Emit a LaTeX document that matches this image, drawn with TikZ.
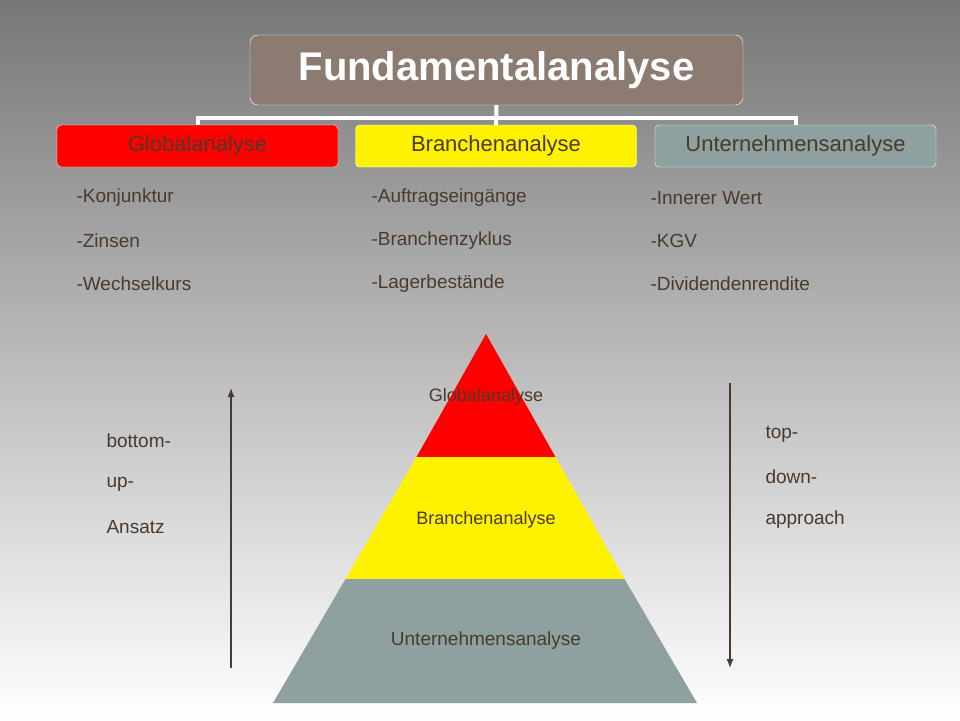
\documentclass[tikz,border=0pt]{standalone}
\usepackage{fontspec}
\setmainfont{Liberation Sans}
\definecolor{brownbox}{HTML}{8B7B70}
\definecolor{txt}{HTML}{4A3A2C}
\definecolor{greybox}{HTML}{8FA0A0}
\definecolor{bgtop}{HTML}{777777}
\begin{document}
\begin{tikzpicture}[x=1pt,y=-1pt,
  child/.style={draw=white,rounded corners=4pt,minimum width=281pt,minimum height=42pt,inner sep=0pt,font=\fontsize{22}{24}\selectfont,text=txt},
  item/.style={anchor=west,font=\fontsize{19}{21}\selectfont,text=txt},
  conn/.style={white,line width=4pt},
  arr/.style={txt,line width=1.3pt,-{Latex[length=9pt,width=7pt]}}]
\usetikzlibrary{arrows.meta}
\shade[top color=bgtop,bottom color=white] (0,0) rectangle (960,720);
\useasboundingbox (0,0) rectangle (960,720);
\node[draw=white,fill=brownbox,rounded corners=8pt,minimum width=493pt,minimum height=70pt,text=white,font=\bfseries\fontsize{40}{44}\selectfont] (top) at (496.5,70) {Fundamentalanalyse};
\node[child,fill=red] (g) at (197.5,146) {Globalanalyse};
\node[child,fill=yellow] (b) at (496,146) {Branchenanalyse};
\node[child,fill=greybox] (u) at (795.5,146) {Unternehmensanalyse};
\coordinate (bar) at (496,118);
\draw[conn] (top.south) -- (b.north);
\draw[conn] (g.north) |- (bar) -| (u.north);
\node[item] (g1) at (73,198) {-Konjunktur};
\node[item] (g2) at (73,241) {-Zinsen};
\node[item] (g3) at (73,284) {-Wechselkurs};
\node[item] (b1) at (368,198) {-Auftragseingänge};
\node[item] (b2) at (368,241) {-Branchenzyklus};
\node[item] (b3) at (368,284) {-Lagerbestände};
\node[item] (u1) at (647,198) {-Innerer Wert};
\node[item] (u2) at (647,241) {-KGV};
\node[item] (u3) at (647,284) {-Dividendenrendite};
\fill[red] (486,334) -- (555.5,457) -- (416.5,457) -- cycle;
\fill[yellow] (416.5,457) -- (555.5,457) -- (624.5,579) -- (345.5,579) -- cycle;
\fill[greybox] (345.5,579) -- (624.5,579) -- (697,703) -- (273,703) -- cycle;
\node[font=\fontsize{18}{20}\selectfont,text=txt] (pg) at (486,397) {Globalanalyse};
\node[font=\fontsize{18}{20}\selectfont,text=txt] (pb) at (486,520) {Branchenanalyse};
\node[font=\fontsize{19}{21}\selectfont,text=txt] (pu) at (486,641) {Unternehmensanalyse};
\coordinate (l0) at (231,668); \coordinate (l1) at (231,388);
\coordinate (r0) at (730,383); \coordinate (r1) at (730,668);
\draw[arr] (l0) -- (l1);
\draw[arr] (r0) -- (r1);
\node[item] (bu1) at (103,441) {bottom-};
\node[item] (bu2) at (103,484) {up-};
\node[item] (bu3) at (103,527) {Ansatz};
\node[item] (td1) at (762,434) {top-};
\node[item] (td2) at (762,477) {down-};
\node[item] (td3) at (762,520) {approach};
\end{tikzpicture}
\end{document}
